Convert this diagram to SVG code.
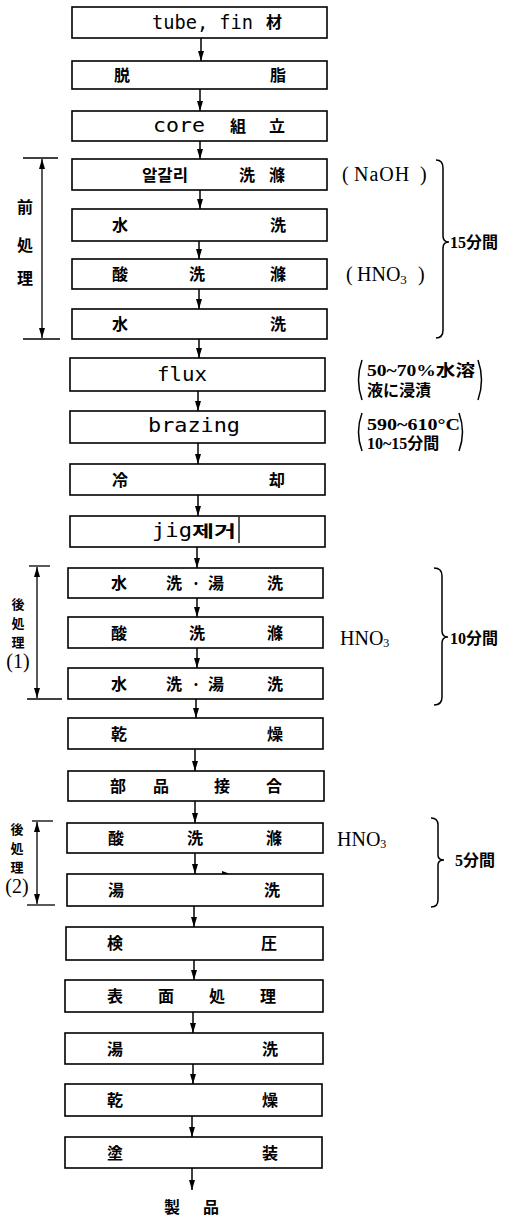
<svg xmlns="http://www.w3.org/2000/svg" width="520" height="1218" viewBox="0 0 520 1218">
<style>
.box{fill:#fff;stroke:#000;stroke-width:1.6}
.cj{font-family:"Noto Sans CJK JP","Noto Sans CJK KR",sans-serif;font-weight:bold;font-size:16px;fill:#000;text-anchor:middle}
.sm{font-family:"Noto Sans CJK JP",sans-serif;font-weight:bold;font-size:13px;fill:#000;text-anchor:middle}
.mono{font-family:"DejaVu Sans Mono","Liberation Mono",monospace;font-size:19px;fill:#000}
.ser{font-family:"Liberation Serif","Noto Sans CJK JP",serif;font-size:20px;fill:#000}
.ann{font-family:"Liberation Serif","Noto Sans CJK JP",serif;font-size:16px;fill:#000;font-weight:bold}
.con{stroke:#000;stroke-width:1.5;fill:none;marker-end:url(#ah)}
.dim{stroke:#000;stroke-width:1.3;fill:none}
.dima{stroke:#000;stroke-width:1.3;fill:none;marker-start:url(#ah);marker-end:url(#ah)}
.br{stroke:#000;stroke-width:1.5;fill:none}
</style>
<defs>
<marker id="ah" viewBox="0 0 10 6" refX="10" refY="3" markerWidth="10" markerHeight="6" markerUnits="userSpaceOnUse" orient="auto-start-reverse">
<path d="M0,0 L10,3 L0,6 z" fill="#000"/>
</marker>
</defs>

<g id="connectors">
<line class="con" x1="201" y1="38" x2="201" y2="61"/>
<line class="con" x1="200" y1="89" x2="200" y2="111"/>
<line class="con" x1="200" y1="141" x2="200" y2="159"/>
<line class="con" x1="200" y1="190" x2="200" y2="209"/>
<line class="con" x1="199" y1="241" x2="199" y2="259"/>
<line class="con" x1="199" y1="289" x2="199" y2="309"/>
<line class="con" x1="199" y1="339" x2="199" y2="358"/>
<line class="con" x1="198" y1="391" x2="198" y2="411"/>
<line class="con" x1="198" y1="443" x2="198" y2="464"/>
<line class="con" x1="198" y1="495" x2="198" y2="516"/>
<line class="con" x1="197" y1="547" x2="197" y2="568"/>
<line class="con" x1="197" y1="598" x2="197" y2="617"/>
<line class="con" x1="197" y1="648" x2="197" y2="668"/>
<line class="con" x1="196" y1="699" x2="196" y2="718"/>
<line class="con" x1="195" y1="749" x2="195" y2="771"/>
<line class="con" x1="195" y1="801" x2="195" y2="823"/>
<line class="con" x1="195" y1="853" x2="195" y2="874"/>
<line class="con" x1="194" y1="906" x2="194" y2="927"/>
<line class="con" x1="194" y1="960" x2="194" y2="980"/>
<line class="con" x1="193" y1="1012" x2="193" y2="1033"/>
<line class="con" x1="193" y1="1064" x2="193" y2="1084"/>
<line class="con" x1="192" y1="1116" x2="192" y2="1137"/>
<line class="con" x1="192" y1="1168" x2="192" y2="1190"/>
<path d="M222,871 L229,873.5 L222,876 z" fill="#000"/>
</g>

<g id="n1"><rect class="box" x="72" y="7" width="255" height="31"/>
<text class="mono" x="152" y="29" textLength="101" lengthAdjust="spacingAndGlyphs">tube, fin</text>
<text class="cj" x="274" y="28" font-size="14">材</text></g>
<g id="n2"><rect class="box" x="72" y="61" width="255" height="28"/>
<text class="cj" x="122" y="81">脱</text><text class="cj" x="278" y="81">脂</text></g>
<g id="n3"><rect class="box" x="72" y="111" width="255" height="30"/>
<text class="mono" x="153" y="132" textLength="52" lengthAdjust="spacingAndGlyphs">core</text>
<text class="cj" x="238" y="132">組</text><text class="cj" x="277" y="132">立</text></g>
<g id="n4"><rect class="box" x="72" y="159" width="255" height="31"/>
<text class="cj" x="165" y="181" textLength="46" lengthAdjust="spacingAndGlyphs">알갈리</text>
<text class="cj" x="247" y="181">洗</text><text class="cj" x="277" y="181">滌</text></g>
<g id="n5"><rect class="box" x="72" y="209" width="255" height="32"/>
<text class="cj" x="120" y="231">水</text><text class="cj" x="278" y="231">洗</text></g>
<g id="n6"><rect class="box" x="72" y="259" width="255" height="30"/>
<text class="cj" x="120" y="280">酸</text><text class="cj" x="197" y="280">洗</text><text class="cj" x="278" y="280">滌</text></g>
<g id="n7"><rect class="box" x="72" y="309" width="255" height="30"/>
<text class="cj" x="120" y="330">水</text><text class="cj" x="278" y="330">洗</text></g>
<g id="n8"><rect class="box" x="70" y="358" width="255" height="33"/>
<text class="mono" x="157" y="381" font-size="20" textLength="50" lengthAdjust="spacingAndGlyphs">flux</text></g>
<g id="n9"><rect class="box" x="70" y="411" width="255" height="32"/>
<text class="mono" x="148" y="432" font-size="20" textLength="92" lengthAdjust="spacingAndGlyphs">brazing</text></g>
<g id="n10"><rect class="box" x="70" y="464" width="255" height="31"/>
<text class="cj" x="120" y="486">冷</text><text class="cj" x="277" y="486">却</text></g>
<g id="n11"><rect class="box" x="70" y="516" width="255" height="31"/>
<text class="mono" x="152" y="537" font-size="20" textLength="40" lengthAdjust="spacingAndGlyphs">jig</text>
<text class="cj" x="214" y="537" font-weight="normal" textLength="44" lengthAdjust="spacingAndGlyphs">제거</text>
<line x1="239" y1="517" x2="239" y2="543" stroke="#000" stroke-width="1.3"/></g>
<g id="n12"><rect class="box" x="68" y="568" width="255" height="30"/>
<text class="cj" x="119" y="589">水</text><text class="cj" x="174" y="589">洗</text><text class="cj" x="196" y="589">·</text><text class="cj" x="216" y="589">湯</text><text class="cj" x="275" y="589">洗</text></g>
<g id="n13"><rect class="box" x="68" y="617" width="255" height="31"/>
<text class="cj" x="119" y="639">酸</text><text class="cj" x="197" y="639">洗</text><text class="cj" x="275" y="639">滌</text></g>
<g id="n14"><rect class="box" x="68" y="668" width="255" height="31"/>
<text class="cj" x="119" y="690">水</text><text class="cj" x="174" y="690">洗</text><text class="cj" x="196" y="690">·</text><text class="cj" x="216" y="690">湯</text><text class="cj" x="275" y="690">洗</text></g>
<g id="n15"><rect class="box" x="68" y="718" width="255" height="31"/>
<text class="cj" x="119" y="740">乾</text><text class="cj" x="275" y="740">燥</text></g>
<g id="n16"><rect class="box" x="68" y="771" width="256" height="30"/>
<text class="cj" x="118" y="792">部</text><text class="cj" x="161" y="792">品</text><text class="cj" x="222" y="792">接</text><text class="cj" x="274" y="792">合</text></g>
<g id="n17"><rect class="box" x="67" y="823" width="256" height="30"/>
<text class="cj" x="116" y="844">酸</text><text class="cj" x="195" y="844">洗</text><text class="cj" x="274" y="844">滌</text></g>
<g id="n18"><rect class="box" x="67" y="874" width="256" height="32"/>
<text class="cj" x="116" y="896">湯</text><text class="cj" x="272" y="896">洗</text></g>
<g id="n19"><rect class="box" x="66" y="927" width="257" height="33"/>
<text class="cj" x="115" y="949">検</text><text class="cj" x="269" y="949">圧</text></g>
<g id="n20"><rect class="box" x="65" y="980" width="258" height="32"/>
<text class="cj" x="115" y="1002">表</text><text class="cj" x="166" y="1002">面</text><text class="cj" x="217" y="1002">処</text><text class="cj" x="268" y="1002">理</text></g>
<g id="n21"><rect class="box" x="65" y="1033" width="258" height="31"/>
<text class="cj" x="115" y="1055">湯</text><text class="cj" x="270" y="1055">洗</text></g>
<g id="n22"><rect class="box" x="65" y="1084" width="257" height="32"/>
<text class="cj" x="115" y="1106">乾</text><text class="cj" x="270" y="1106">燥</text></g>
<g id="n23"><rect class="box" x="65" y="1137" width="257" height="31"/>
<text class="cj" x="115" y="1159">塗</text><text class="cj" x="270" y="1159">装</text></g>
<g id="n24"><text class="cj" x="172" y="1213">製</text><text class="cj" x="211" y="1213">品</text></g>

<g id="pre">
<line class="dim" x1="23" y1="158" x2="58" y2="158"/>
<line class="dim" x1="23" y1="339" x2="60" y2="339"/>
<line class="dima" x1="42" y1="159" x2="42" y2="338"/>
<text class="cj" x="25" y="213">前</text>
<text class="cj" x="25" y="251">処</text>
<text class="cj" x="25" y="284">理</text>
</g>
<g id="post1">
<line class="dim" x1="29" y1="566" x2="50" y2="566"/>
<line class="dim" x1="27" y1="699" x2="62" y2="699"/>
<line class="dima" x1="37" y1="567" x2="37" y2="698"/>
<text class="sm" x="18" y="609">後</text>
<text class="sm" x="18" y="628">処</text>
<text class="sm" x="18" y="647">理</text>
<text class="ser" x="18" y="668" text-anchor="middle" font-size="15">(1)</text>
</g>
<g id="post2">
<line class="dim" x1="32" y1="821" x2="53" y2="821"/>
<line class="dim" x1="27" y1="905" x2="55" y2="905"/>
<line class="dima" x1="37" y1="822" x2="37" y2="904"/>
<text class="sm" x="17" y="834">後</text>
<text class="sm" x="17" y="853">処</text>
<text class="sm" x="17" y="872">理</text>
<text class="ser" x="17" y="893" text-anchor="middle" font-size="15">(2)</text>
</g>

<g id="annotations">
<text class="ser" x="342" y="181" font-size="21">(<tspan x="354" letter-spacing="1">NaOH</tspan><tspan x="420">)</tspan></text>
<text class="ser" x="346" y="281" font-size="21">(<tspan x="357">HNO</tspan><tspan font-size="13" dy="3">3</tspan><tspan x="418" dy="-3">)</tspan></text>
<path class="br" d="M436,160 Q443,160 443,168 L443,236 Q443,242 449,242 Q443,242 443,248 L443,330 Q443,338 436,338"/>
<text class="ann" x="450" y="248">15分間</text>

<path class="br" d="M362,360 Q355,380 362,400"/>
<text class="ann" x="367" y="376" font-weight="normal" font-size="17" textLength="108" lengthAdjust="spacingAndGlyphs">50~70%水溶</text>
<text class="ann" x="367" y="396">液に浸漬</text>
<path class="br" d="M478,360 Q485,380 478,400"/>

<path class="br" d="M362,413 Q355,432 362,451"/>
<text class="ann" x="367" y="430" font-weight="normal" font-size="17" textLength="93" lengthAdjust="spacingAndGlyphs">590~610°C</text>
<text class="ann" x="367" y="449">10~15分間</text>
<path class="br" d="M459,413 Q466,432 459,451"/>

<text class="ser" x="340" y="645">HNO<tspan font-size="12" dy="2">3</tspan></text>
<path class="br" d="M434,568 Q442,568 442,576 L442,631 Q442,637 448,637 Q442,637 442,643 L442,697 Q442,705 434,705"/>
<text class="ann" x="450" y="644">10分間</text>

<text class="ser" x="337" y="846">HNO<tspan font-size="12" dy="2">3</tspan></text>
<path class="br" d="M431,818 Q438,818 438,825 L438,855 Q438,860 444,860 Q438,860 438,865 L438,900 Q438,907 431,907"/>
<text class="ann" x="455" y="866">5分間</text>
</g>
</svg>
